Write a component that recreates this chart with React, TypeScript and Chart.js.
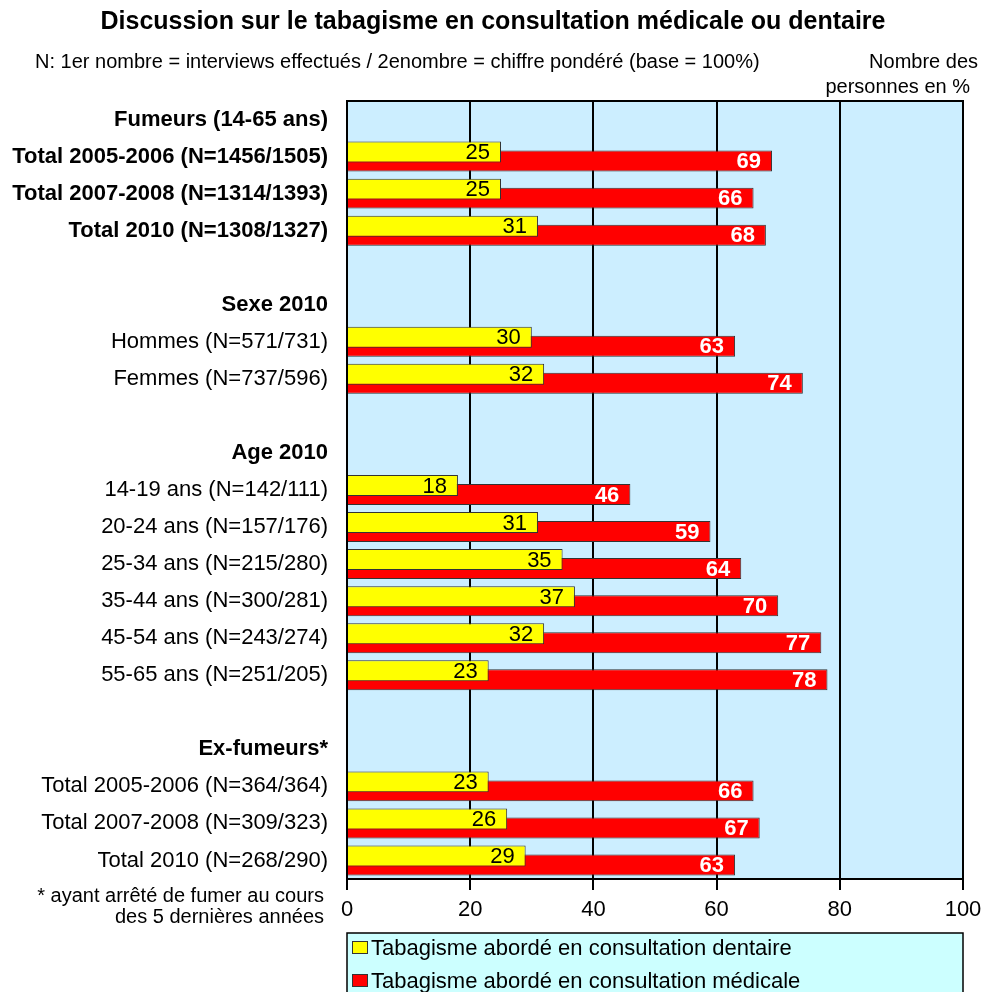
import React, { useEffect, useRef } from "react";
import { Chart, registerables } from "chart.js";

Chart.register(...registerables);

const FONT = "'Liberation Sans', Arial, sans-serif";

const categories = [
  "Fumeurs (14-65 ans)",
  "Total 2005-2006 (N=1456/1505)",
  "Total 2007-2008 (N=1314/1393)",
  "Total 2010 (N=1308/1327)",
  "",
  "Sexe 2010",
  "Hommes (N=571/731)",
  "Femmes (N=737/596)",
  "",
  "Age 2010",
  "14-19 ans (N=142/111)",
  "20-24 ans (N=157/176)",
  "25-34 ans (N=215/280)",
  "35-44 ans (N=300/281)",
  "45-54 ans (N=243/274)",
  "55-65 ans (N=251/205)",
  "",
  "Ex-fumeurs*",
  "Total 2005-2006 (N=364/364)",
  "Total 2007-2008 (N=309/323)",
  "Total 2010 (N=268/290)",
];

const emphasizedRows = [0, 1, 2, 3, 5, 9, 17];

const dentaire: (number | null)[] = [
  null, 25, 25, 31, null, null, 30, 32, null, null, 18, 31, 35, 37, 32, 23, null, null, 23, 26, 29,
];
const medicale: (number | null)[] = [
  null, 69, 66, 68, null, null, 63, 74, null, null, 46, 59, 64, 70, 77, 78, null, null, 66, 67, 63,
];

const seriesNames = [
  "Tabagisme abordé en consultation dentaire",
  "Tabagisme abordé en consultation médicale",
];

const xTicks = [0, 20, 40, 60, 80, 100];

const titleText = "Discussion sur le tabagisme en consultation médicale ou dentaire";
const subtitleText = "N: 1er nombre = interviews effectués / 2enombre = chiffre pondéré (base = 100%)";
const unitLines = ["Nombre des", "personnes en %"];
const footnoteLines = ["* ayant arrêté de fumer au cours", "des 5 dernières années"];

const decorPlugin = {
  id: "decor",
  beforeDraw(chart: any) {
    const { ctx, chartArea: a } = chart;
    ctx.save();
    ctx.fillStyle = "#CCEEFF";
    ctx.fillRect(a.left, a.top, a.right - a.left, a.bottom - a.top);
    ctx.restore();
  },
  afterDatasetsDraw(chart: any) {
    const { ctx, chartArea: a } = chart;
    ctx.save();
    ctx.strokeStyle = "#000";
    ctx.lineWidth = 2;
    ctx.strokeRect(a.left, a.top, a.right - a.left, a.bottom - a.top);
    chart.data.datasets.forEach((ds: any, di: number) => {
      const meta = chart.getDatasetMeta(di);
      meta.data.forEach((el: any, i: number) => {
        const v = ds.data[i];
        if (v == null) return;
        const { x, y } = el.getProps(["x", "y"], true);
        ctx.font = (di === 0 ? "" : "bold ") + "22px " + FONT;
        ctx.fillStyle = di === 0 ? "#000" : "#fff";
        ctx.textAlign = "right";
        ctx.textBaseline = "middle";
        ctx.fillText(String(v), x - 11, y + 1);
      });
    });
    ctx.restore();
  },
  afterDraw(chart: any) {
    const { ctx, chartArea: a, width } = chart;
    ctx.save();
    ctx.fillStyle = "#000";
    ctx.textBaseline = "alphabetic";
    ctx.font = "bold 25px " + FONT;
    ctx.textAlign = "center";
    ctx.fillText(titleText, width / 2 + 2, 29);
    ctx.font = "20px " + FONT;
    ctx.textAlign = "left";
    ctx.fillText(subtitleText, 35, 68);
    ctx.textAlign = "right";
    ctx.fillText(unitLines[0], 978, 68);
    ctx.fillText(unitLines[1], 970, 93);
    ctx.fillText(footnoteLines[0], a.left - 23, 902);
    ctx.fillText(footnoteLines[1], a.left - 23, 923);
    const lx = a.left;
    const ly = a.bottom + 54;
    ctx.fillStyle = "#CCFFFF";
    ctx.fillRect(lx, ly, a.right - a.left, 80);
    ctx.strokeStyle = "#000";
    ctx.lineWidth = 1.5;
    ctx.strokeRect(lx, ly, a.right - a.left, 80);
    ctx.font = "22px " + FONT;
    ctx.textAlign = "left";
    chart.data.datasets.forEach((ds: any, di: number) => {
      const base = ly + 22 + di * 33;
      ctx.fillStyle = ds.backgroundColor;
      ctx.fillRect(lx + 5, base - 14, 16, 13);
      ctx.strokeStyle = "#333";
      ctx.lineWidth = 1;
      ctx.strokeRect(lx + 5.5, base - 13.5, 15, 12);
      ctx.fillStyle = "#000";
      ctx.fillText(ds.label, lx + 24, base);
    });
    ctx.restore();
  },
};

export default function App() {
  const ref = useRef<HTMLCanvasElement | null>(null);
  useEffect(() => {
    if (!ref.current) return;
    Chart.defaults.font.family = FONT;
    const chart = new Chart(ref.current, {
      type: "bar",
      data: {
        labels: categories,
        datasets: [
          {
            label: seriesNames[0],
            data: dentaire,
            backgroundColor: "#FFFF00",
            borderColor: "#333333",
            borderWidth: 1,
            categoryPercentage: 0.486,
            barPercentage: 2.33,
          },
          {
            label: seriesNames[1],
            data: medicale,
            backgroundColor: "#FF0000",
            borderColor: "#333333",
            borderWidth: 1,
            categoryPercentage: 0.486,
            barPercentage: 2.33,
          },
        ],
      } as any,
      options: {
        indexAxis: "y",
        responsive: false,
        animation: false,
        layout: { padding: { top: 101, right: 19, left: 0, bottom: 53 } },
        plugins: {
          legend: { display: false },
          title: { display: false },
          tooltip: { enabled: false },
        },
        scales: {
          x: {
            type: "linear",
            min: xTicks[0],
            max: xTicks[xTicks.length - 1],
            afterBuildTicks: (s: any) => {
              s.ticks = xTicks.map((v) => ({ value: v }));
            },
            ticks: {
              color: "#000",
              font: { family: FONT, size: 22 },
              padding: 7,
              maxRotation: 0,
            },
            grid: { color: "#000", lineWidth: 2, tickLength: 11, drawTicks: true },
            border: { display: true, color: "#000", width: 2 },
            afterFit: (s: any) => {
              s.height = 60;
              s.paddingLeft = 0;
              s.paddingRight = 0;
            },
          },
          y: {
            type: "category",
            grid: { display: false, drawTicks: false },
            border: { display: true, color: "#000", width: 2 },
            ticks: {
              autoSkip: false,
              padding: 19,
              color: "#000",
              font: (c: any) => ({
                family: FONT,
                size: 22,
                weight: emphasizedRows.includes(c.index) ? "bold" : "normal",
              }),
            },
            afterFit: (s: any) => {
              s.width = 347;
              s.paddingTop = 0;
              s.paddingBottom = 0;
            },
          },
        },
      } as any,
      plugins: [decorPlugin],
    });
    return () => chart.destroy();
  }, []);
  return (
    <div style={{ position: "absolute", left: 0, top: 0, width: 982, height: 992, background: "#fff" }}>
      <canvas ref={ref} width={982} height={992} />
    </div>
  );
}
